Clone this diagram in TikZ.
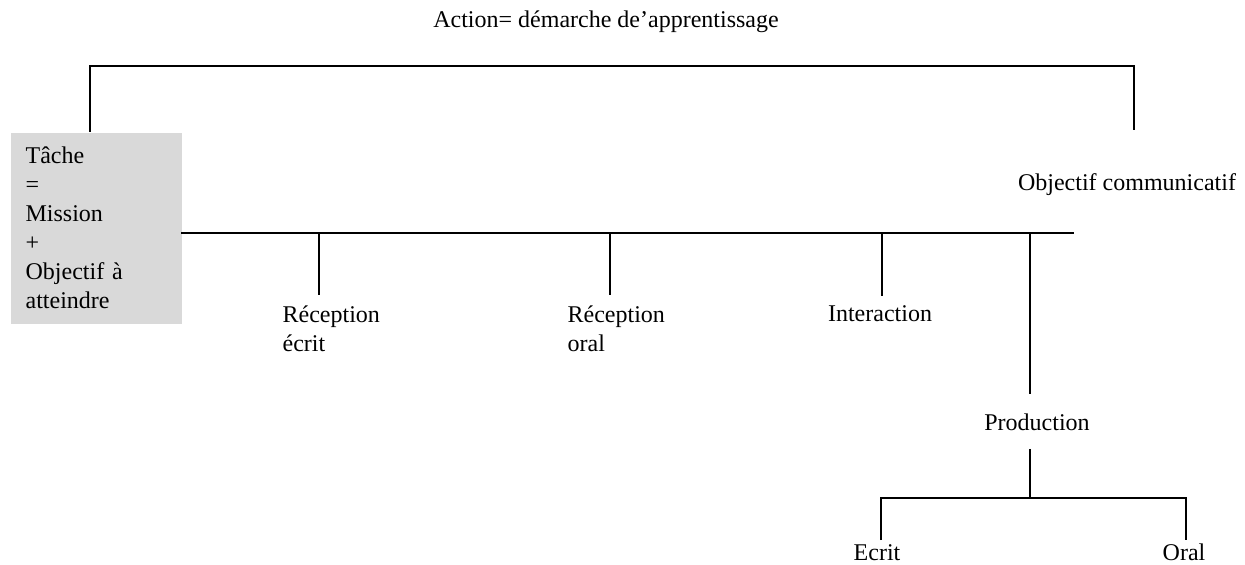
\documentclass[tikz,border=0pt]{standalone}
\usepackage{fontspec}
\setmainfont{Liberation Serif}
\begin{document}
\begin{tikzpicture}[x=0.5pt, y=-0.5pt, line width=0.6pt,
        label/.style={inner sep=0pt, font=\fontsize{12}{14.5}\selectfont},
        multi/.style={label, align=left, anchor=base west},
        tachebox/.style={fill=gray!30, anchor=north west, inner xsep=7.5pt, inner ysep=0pt,
            minimum width=85.5pt, minimum height=95.5pt, text width=70.5pt, align=left,
            font=\fontsize{12}{14.5}\selectfont}]
        \useasboundingbox (0,0) rectangle (1245,565);

        \node[label, anchor=base] (action) at (606,28) {Action= démarche de’apprentissage};
        \node[tachebox] (tache) at (10,132) {Tâche\\=\\Mission\\+\\Objectif à\\atteindre};
        \node[label, anchor=base] (objcom) at (1127,191) {Objectif communicatif};

        \coordinate (tl) at (90,132);
        \coordinate (tr) at (1134,130);
        \draw (tl) -- (90,66) -| (tr);

        \coordinate (barL) at (181,233);
        \coordinate (barR) at (1074,233);
        \draw (barL) -- (barR);

        \node[multi] (rececrit) at (282,352) {Réception\\écrit};
        \node[multi] (recoral) at (567,352) {Réception\\oral};
        \node[label, anchor=base] (inter) at (880,322) {Interaction};
        \node[label, anchor=base] (prod) at (1037,431) {Production};
        \node[label, anchor=base] (ecrit) at (877,560) {Ecrit};
        \node[label, anchor=base] (oral) at (1184,560) {Oral};

        \draw (319,233) -- (319,295);
        \draw (610,233) -- (610,295);
        \draw (882,233) -- (882,296);
        \draw (1030,233) -- (1030,394);

        \coordinate (fork) at (1030,498);
        \draw (1030,449) -- (fork);
        \draw (881,540) |- (fork) -| (1186,540);
    \end{tikzpicture}
\end{document}
